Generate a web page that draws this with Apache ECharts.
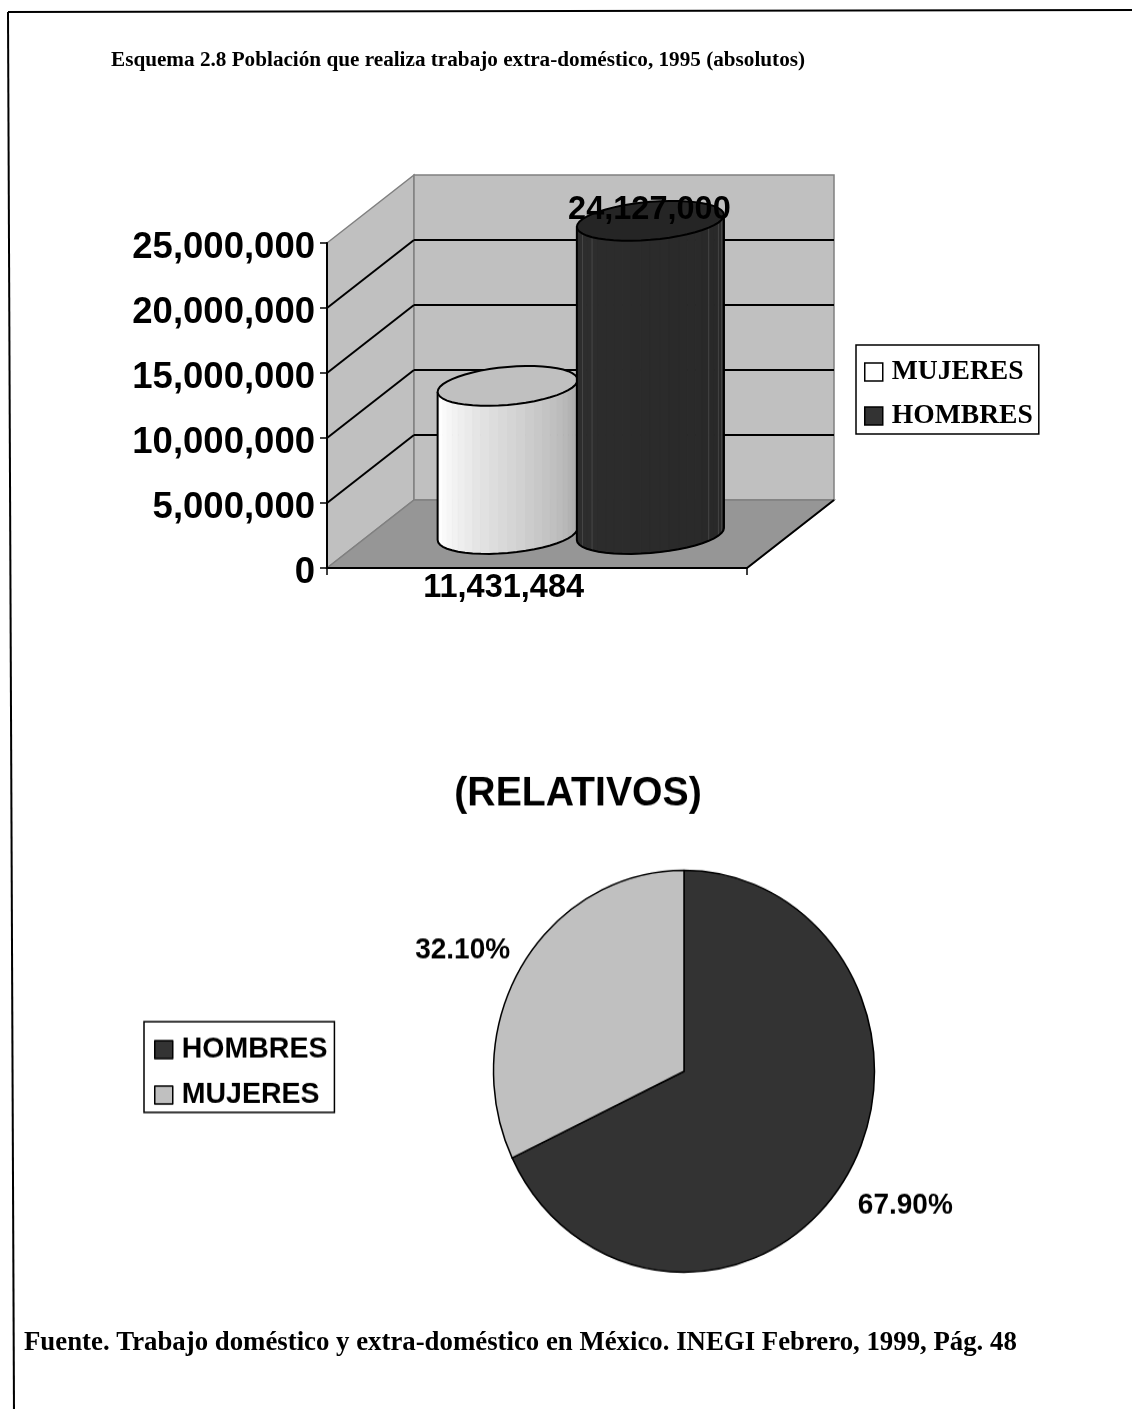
<!DOCTYPE html>
<html>
<head>
<meta charset="utf-8">
<script src="https://cdn.jsdelivr.net/npm/echarts@6/dist/echarts.min.js"></script>
<style>
  html, body { margin: 0; padding: 0; background: #fff; }
  #barChart { position: absolute; left: 0; top: 0; width: 1132px; height: 1409px; }
  /* The pie is slightly taller than wide, so its chart is stretched vertically */
  #pieChart { position: absolute; left: 100px; top: 740px; width: 900px; height: 530px;
              transform-origin: 0 0; transform: scaleY(1.055); }
</style>
</head>
<body>
<div id="barChart"></div>
<div id="pieChart"></div>
<script>
// Data
const periods = ['1995'];
const mujeresAbs = [11431484];
const hombresAbs = [24127000];
const barLegend = ['MUJERES', 'HOMBRES'];
const pieNames = ['HOMBRES', 'MUJERES'];
const pieShares = [67.9, 32.1];
const valueTicks = [0, 5000000, 10000000, 15000000, 20000000, 25000000];

const headingText = 'Esquema 2.8 Población que realiza trabajo extra-doméstico, 1995 (absolutos)';
const sourceText = 'Fuente. Trabajo doméstico y extra-doméstico en México. INEGI Febrero, 1999, Pág. 48';
const pieTitle = '(RELATIVOS)';

const SANS = '"Liberation Sans", Arial, sans-serif';
const SERIF = '"Liberation Serif", "Times New Roman", serif';

// Oblique projection of the plot box
const DEPTH_X = 87, DEPTH_Y = -68;

const fmt = v => v.toLocaleString('en-US');

// Back wall, side wall and floor with their gridlines
function renderBox(params, api) {
  const cs = params.coordSys;
  const x0 = cs.x, x1 = cs.x + cs.width;
  const yOf = v => api.coord([0, v])[1];
  const y0 = yOf(0), yTop = yOf(valueTicks[valueTicks.length - 1]);
  const poly = (points, fill) => ({ type: 'polygon', shape: { points }, style: { fill, stroke: '#808080', lineWidth: 1.5 } });
  const seg = (a, b, stroke, lineWidth) => ({
    type: 'line', shape: { x1: a[0], y1: a[1], x2: b[0], y2: b[1] }, style: { stroke, lineWidth }
  });
  const children = [
    poly([[x0, yTop], [x0 + DEPTH_X, yTop + DEPTH_Y], [x0 + DEPTH_X, y0 + DEPTH_Y], [x0, y0]], '#c0c0c0'),
    poly([[x0 + DEPTH_X, yTop + DEPTH_Y], [x1 + DEPTH_X, yTop + DEPTH_Y], [x1 + DEPTH_X, y0 + DEPTH_Y], [x0 + DEPTH_X, y0 + DEPTH_Y]], '#c0c0c0'),
    poly([[x0, y0], [x0 + DEPTH_X, y0 + DEPTH_Y], [x1 + DEPTH_X, y0 + DEPTH_Y], [x1, y0]], '#969696')
  ];
  valueTicks.slice(1, -1).forEach(v => {
    const y = yOf(v);
    children.push(seg([x0, y], [x0 + DEPTH_X, y + DEPTH_Y], '#000', 2));
    children.push(seg([x0 + DEPTH_X, y + DEPTH_Y], [x1 + DEPTH_X, y + DEPTH_Y], '#000', 2));
  });
  children.push(seg([x1, y0], [x1 + DEPTH_X, y0 + DEPTH_Y], '#000', 2));
  return { type: 'group', children };
}

// Faceted cylinder standing mid-depth on the floor
function makeCylinder(side, radiusScale, shade, topFill, hairlines, labelDx, labelPos) {
  return function (params, api) {
    const value = api.value(1);
    const base = api.coord([api.value(0), 0]);
    const top = api.coord([api.value(0), value]);
    const band = api.size([1, 0])[0];
    const rx = band * 0.17 * radiusScale;
    const ry = 19, shear = 6, N = 24;
    const cx = base[0] + DEPTH_X / 2 - 1.5 + side * band * 0.17;
    const cyB = base[1] + DEPTH_Y / 2;
    const cyT = top[1] + DEPTH_Y / 2 + 0.5;
    const pt = (t, cy) => [cx + rx * Math.cos(t), cy + ry * Math.sin(t) - shear * Math.cos(t)];
    const children = [];
    const front = [];
    for (let i = 0; i <= N; i++) front.push(Math.PI * (1 - i / N));
    for (let i = 0; i < N; i++) {
      const col = shade(i / (N - 1));
      children.push({
        type: 'polygon',
        shape: { points: [pt(front[i], cyT), pt(front[i + 1], cyT), pt(front[i + 1], cyB), pt(front[i], cyB)] },
        style: { fill: col, stroke: col, lineWidth: 1 }
      });
    }
    hairlines.forEach(i => {
      const a = pt(front[i], cyT), b = pt(front[i], cyB);
      children.push({ type: 'line', shape: { x1: a[0], y1: a[1], x2: b[0], y2: b[1] }, style: { stroke: '#4e4e4e', lineWidth: 0.8 } });
    });
    const outline = front.map(t => pt(t, cyB));
    outline.unshift(pt(Math.PI, cyT));
    outline.push(pt(0, cyT));
    children.push({ type: 'polyline', shape: { points: outline }, style: { fill: 'none', stroke: '#000', lineWidth: 2 } });
    const cap = [];
    for (let i = 0; i < 2 * N; i++) cap.push(pt(Math.PI * i / N, cyT));
    children.push({ type: 'polygon', shape: { points: cap }, style: { fill: topFill, stroke: '#000', lineWidth: 2 } });
    const anchorY = labelPos.fromTop ? cyT + labelPos.dy : base[1] + labelPos.dy;
    children.push({
      type: 'text',
      style: { x: cx + labelDx, y: anchorY, text: fmt(value), align: 'center', verticalAlign: 'middle',
               font: 'bold 32.5px ' + SANS, fill: '#000' }
    });
    return { type: 'group', children };
  };
}

const lightShade = f => {
  const v = Math.round(f < 0.08 ? 238 + f * 200 : 255 - (f - 0.08) / 0.92 * 88);
  return `rgb(${v},${v},${v})`;
};
const darkShade = f => {
  const v = Math.round(46 - f * 6);
  return `rgb(${v},${v},${v})`;
};

const barChart = echarts.init(document.getElementById('barChart'));
barChart.setOption({
  animation: false,
  title: [
    { text: headingText, left: 106, top: 45, textStyle: { fontFamily: SERIF, fontSize: 21.2, fontWeight: 'bold', color: '#000' } },
    { text: sourceText, left: 19, top: 1325, textStyle: { fontFamily: SERIF, fontSize: 26.8, fontWeight: 'bold', color: '#000' } }
  ],
  grid: { left: 327, top: 243, width: 420, height: 325, containLabel: false },
  xAxis: {
    type: 'category', data: periods, z: 5,
    axisLine: { lineStyle: { color: '#000', width: 2 } },
    axisTick: { show: true, length: 7, lineStyle: { color: '#000', width: 1.5 } },
    axisLabel: { show: false }
  },
  yAxis: {
    type: 'value', min: 0, max: 25000000, interval: 5000000, z: 5,
    axisLine: { show: true, lineStyle: { color: '#000', width: 2 } },
    axisTick: { show: true, length: 7, lineStyle: { color: '#000', width: 1.5 } },
    splitLine: { show: false },
    axisLabel: { margin: 12, fontFamily: SANS, fontSize: 36.5, fontWeight: 'bold', color: '#000',
                 verticalAlign: 'top', lineHeight: 10, formatter: fmt }
  },
  legend: {
    left: 856, top: 345, orient: 'vertical', selectedMode: false,
    padding: [13, 6, 4, 8], itemGap: 16, itemWidth: 18, itemHeight: 18, icon: 'rect',
    borderColor: '#000', borderWidth: 1.5, backgroundColor: '#fff',
    textStyle: { fontFamily: SERIF, fontSize: 27.6, fontWeight: 'bold', color: '#000', padding: [0, 0, 0, 4] },
    data: [
      { name: barLegend[0], itemStyle: { color: '#fff', borderColor: '#000', borderWidth: 1.5 } },
      { name: barLegend[1], itemStyle: { color: '#333', borderColor: '#000', borderWidth: 1.5 } }
    ]
  },
  graphic: [
    { type: 'line', shape: { x1: 8, y1: 12, x2: 1132, y2: 10 }, style: { stroke: '#000', lineWidth: 2 } },
    { type: 'line', shape: { x1: 8, y1: 12, x2: 14, y2: 1409 }, style: { stroke: '#000', lineWidth: 2 } }
  ],
  series: [
    { type: 'custom', name: 'box', silent: true, z: 1, clip: false, data: [[0, 0]], renderItem: renderBox },
    {
      type: 'custom', name: barLegend[0], z: 2, clip: false,
      data: mujeresAbs.map((v, i) => [i, v]), itemStyle: { color: '#fff' },
      renderItem: makeCylinder(-1, 0.98, lightShade, '#c0c0c0', [], -4, { fromTop: false, dy: 20 })
    },
    {
      type: 'custom', name: barLegend[1], z: 3, clip: false,
      data: hombresAbs.map((v, i) => [i, v]), itemStyle: { color: '#333' },
      renderItem: makeCylinder(1, 1.03, darkShade, '#252525', [3, 5, 19, 21, 22, 23], -1, { fromTop: true, dy: -11 })
    }
  ]
});

const pieLabelShift = [{ dx: -35, dy: 18 }, { dx: 35, dy: -5.5 }];
const pieChart = echarts.init(document.getElementById('pieChart'));
pieChart.setOption({
  animation: false,
  title: {
    text: pieTitle, left: 473, textAlign: 'center', top: 27,
    textStyle: { fontFamily: SANS, fontSize: 39.2, fontWeight: 'bold', color: '#000' }
  },
  legend: {
    left: 44, top: 267, orient: 'vertical', selectedMode: false,
    padding: [12, 7, 2, 10], itemGap: 14, itemWidth: 18, itemHeight: 17, icon: 'rect',
    borderColor: '#000', borderWidth: 1.5,
    textStyle: { fontFamily: SANS, fontSize: 28.5, fontWeight: 'bold', color: '#000', padding: [0, 0, 0, 4] },
    data: [
      { name: pieNames[0], itemStyle: { borderColor: '#000', borderWidth: 1.5 } },
      { name: pieNames[1], itemStyle: { borderColor: '#000', borderWidth: 1.5 } }
    ]
  },
  series: [{
    type: 'pie', center: [584, 314], radius: 190.5, startAngle: 90, clockwise: true,
    avoidLabelOverlap: false,
    data: pieNames.map((name, i) => ({ name, value: pieShares[i] })),
    color: ['#333333', '#c0c0c0'],
    itemStyle: { borderColor: '#000', borderWidth: 1.5 },
    label: {
      show: true, position: 'outside', fontFamily: SANS, fontSize: 28, fontWeight: 'bold', color: '#000',
      formatter: p => p.value.toFixed(2) + '%'
    },
    labelLine: { show: false },
    labelLayout: p => pieLabelShift[p.dataIndex],
    emphasis: { disabled: true }
  }]
});
</script>
</body>
</html>
